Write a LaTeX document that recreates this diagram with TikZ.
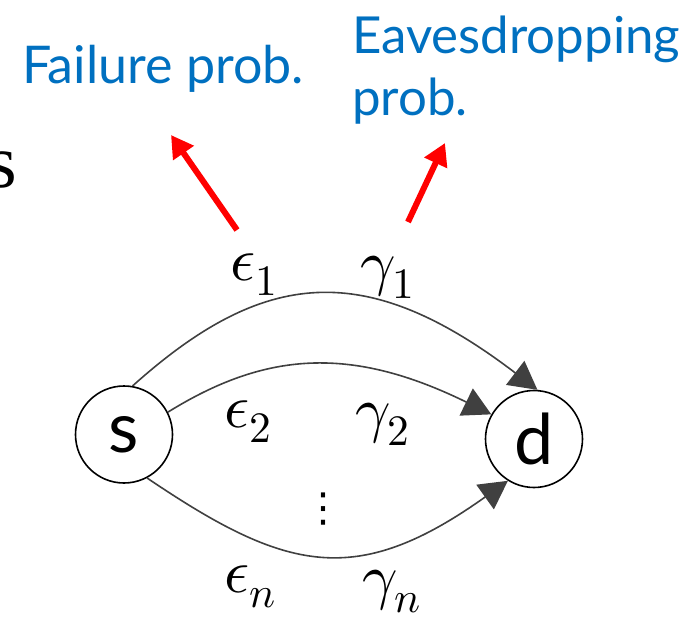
\documentclass[tikz,border=0pt]{standalone}
\usepackage{fontspec}
\usepackage{unicode-math}
\setmainfont{Lato}
\setmathfont{Latin Modern Math}
\newfontfamily\serifpart{Liberation Serif}
\newfontfamily\dotsfont{DejaVu Sans}
\usetikzlibrary{arrows.meta}
\definecolor{tblue}{HTML}{0070C0}
\definecolor{tgray}{HTML}{404040}
\definecolor{tred}{HTML}{FF0000}
\begin{document}
\begin{tikzpicture}[x=1pt,y=-1pt,
  vtx/.style={circle, draw=black, line width=1.6pt, minimum size=97pt, inner sep=0pt, font=\fontsize{70}{84}\selectfont},
  link/.style={draw=tgray, line width=1.6pt, -{Triangle[length=28pt,width=30pt]}},
  pointer/.style={draw=tred, line width=6pt, -{Triangle[length=22pt,width=24pt]}},
  lbl/.style={font=\fontsize{62}{70}\selectfont, inner sep=0pt},
  bluetxt/.style={text=tblue, align=left, inner sep=0pt}
]
\path[use as bounding box] (0,0) rectangle (694,626);

\node[font=\serifpart\fontsize{76}{80}\selectfont, anchor=base east, inner sep=0pt] (frag) at (17,187) {s};

\node[bluetxt, font=\fontsize{52}{60}\selectfont, anchor=base west] (fail) at (22,84) {Failure prob.};
\node[bluetxt, font=\fontsize{51}{62}\selectfont, anchor=base west] (eaves) at (352,115) {Eavesdropping\\prob.};

\node[vtx] (s) at (124,434.5) {s};
\node[vtx] (d) at (534,439) {d};

\draw[link] (s.80) .. controls (264,268) and (366,259) .. (d.86);
\draw[link] (s.27) .. controls (265,352) and (350,345) .. (d.150);
\draw[link] (s.-62) .. controls (286,572) and (356,589) .. (d.-122);

\node[lbl, anchor=base west] (e1) at (230,280) {$\epsilon_1$};
\node[lbl, anchor=base west] (g1) at (360,283) {$\gamma_1$};
\node[lbl, anchor=base west] (e2) at (224,427) {$\epsilon_2$};
\node[lbl, anchor=base west] (g2) at (355,430) {$\gamma_2$};
\node[lbl, anchor=base west] (en) at (224,592) {$\epsilon_n$};
\node[lbl, anchor=base west] (gn) at (362,597) {$\gamma_n$};
\node[font=\dotsfont\fontsize{40}{48}\selectfont, inner sep=0pt] (vd) at (323,509) {⋮};

\coordinate (t1) at (237,230);
\coordinate (h1) at (171,135);
\coordinate (t2) at (408,222);
\coordinate (h2) at (445,143);
\draw[pointer] (t1) -- (h1);
\draw[pointer] (t2) -- (h2);
\end{tikzpicture}
\end{document}
